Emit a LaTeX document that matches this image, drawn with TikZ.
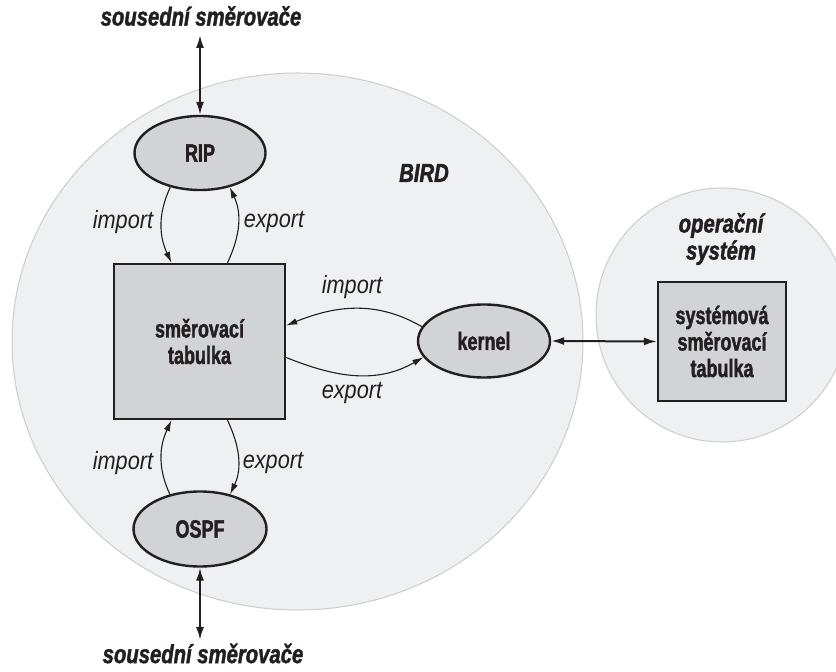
\documentclass[tikz,border=0pt]{standalone}
\usepackage{fontspec}
\usetikzlibrary{arrows.meta,shapes.geometric,calc}
\newfontfamily\bfcond[FakeStretch=0.72,FakeBold=1.6]{Liberation Sans}
\newfontfamily\ttlcond[FakeStretch=0.78,FakeBold=1.6]{Liberation Sans}
\newfontfamily\itcond[FakeStretch=0.87]{Liberation Sans}
\definecolor{zonefill}{HTML}{EFF0F2}
\definecolor{zoneline}{HTML}{CDCDCF}
\definecolor{nodefill}{HTML}{D2D3D5}
\definecolor{ink}{HTML}{231F20}
\begin{document}
\begin{tikzpicture}[x=1pt,y=1pt,
  zone/.style={ellipse, fill=zonefill, draw=zoneline, line width=1pt, inner sep=0pt},
  proc/.style={ellipse, fill=nodefill, draw=ink, line width=2.4pt, inner sep=0pt,
    minimum width=131pt, minimum height=74pt, text=ink,
    font=\bfcond\bfseries\fontsize{25}{27}\selectfont},
  table/.style={rectangle, fill=nodefill, draw=ink, line width=2.4pt, inner sep=0pt,
    align=center, text=ink, font=\bfcond\bfseries\fontsize{25}{26.5}\selectfont},
  title/.style={text=ink, align=center, inner sep=0pt,
    font=\ttlcond\bfseries\itshape\fontsize{26}{27}\selectfont},
  lbl/.style={text=ink, inner sep=0pt, font=\itcond\itshape\fontsize{25}{27}\selectfont},
  conn/.style={draw=ink, line width=1.1pt, -{Latex[length=11pt,width=6.5pt]}},
  link/.style={draw=ink, line width=2pt, {Latex[length=13pt,width=8pt]}-{Latex[length=13pt,width=8pt]}}
]
\useasboundingbox (0,0) rectangle (836,672);
\fill[white] (0,0) rectangle (836,672);

% zones
\node[zone, minimum width=571pt, minimum height=537pt] (bird) at (297.5,330.5) {};
\node[zone, minimum width=252pt, minimum height=254pt] (os) at (722,357) {};

% zone titles
\node[title] (birdt) at (424,499) {BIRD};
\node[title] (ost) at (721,433) {operační\\systém};

% nodes
\node[proc] (rip) at (200,519) {RIP};
\node[proc, minimum width=133pt, minimum height=75pt] (ospf) at (200,143) {OSPF};
\node[proc, minimum width=132pt, minimum height=73pt] (kern) at (484,331) {kernel};
\node[table, minimum width=171pt, minimum height=155pt] (tab) at (199.5,330.5) {směrovací\\tabulka};
\node[table, minimum width=128pt, minimum height=119pt] (sys) at (722,330.5) {systémová\\směrovací\\tabulka};

% neighbours
\node[title] (ntop) at (201,656) {sousední směrovače};
\node[title] (nbot) at (203,18.5) {sousední směrovače};
\coordinate (ttop) at (200,637);
\coordinate (tbot) at (200,32);

% links
\draw[link] (ttop) -- (rip.north);
\draw[link] (ospf.south) -- (tbot);
\draw[link] (kern.east) -- (sys.west);

% RIP <-> table
\draw[conn] (rip.229) to[out=245,in=115] ($(tab.north)+(-28,0)$);
\draw[conn] ($(tab.north)+(28,0)$) to[out=65,in=295] (rip.311);
\node[lbl] (ri) at (123,450) {import};
\node[lbl] (re) at (274,450) {export};

% OSPF <-> table
\draw[conn] (ospf.131) to[out=115,in=245] ($(tab.south)+(-28,0)$);
\draw[conn] ($(tab.south)+(28,0)$) to[out=295,in=65] (ospf.49);
\node[lbl] (oi) at (123,209) {import};
\node[lbl] (oe) at (273,209) {export};

% kernel <-> table
\draw[conn] (kern.167) to[out=150,in=22] ($(tab.east)+(0,16)$);
\draw[conn] ($(tab.east)+(0,-16)$) to[out=-22,in=210] (kern.195);
\node[lbl] (ki) at (352,385) {import};
\node[lbl] (ke) at (352,279) {export};
\end{tikzpicture}
\end{document}
